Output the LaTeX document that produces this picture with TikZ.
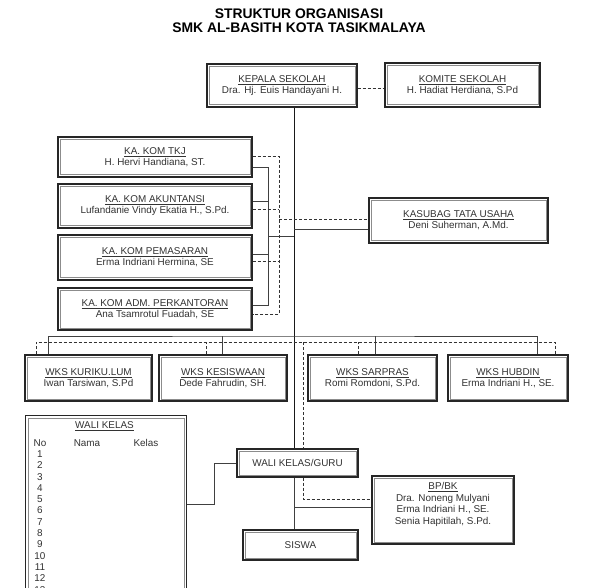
\documentclass[tikz,border=0pt]{standalone}
\usepackage{fontspec}
\setmainfont{Liberation Sans}
\usetikzlibrary{positioning}

\begin{document}
\begin{tikzpicture}
    [
        x=1pt, y=-1pt,
        every node/.style={text=black!80, font=\fontsize{9.9}{11}\selectfont},
        org_box/.style={rectangle, draw=black!85, line width=1.2pt, fill=white, inner sep=0pt, align=center,
            path picture={\draw[black!45, line width=0.6pt] ([shift={(2.2pt,-2.2pt)}]path picture bounding box.north west) rectangle ([shift={(-2.2pt,2.2pt)}]path picture bounding box.south east);}},
        title_text/.style={font=\fontsize{13.9}{14}\selectfont\bfseries, text=black},
        solid_link/.style={draw=black!75, line width=0.8pt},
        dashed_link/.style={draw=black!80, line width=0.8pt, dash pattern=on 3pt off 2pt},
    ]
        \useasboundingbox (0,0) rectangle (600,588);
        \clip (0,0) rectangle (600,588);
        % judul
        \node[title_text] (title1) at (299,14) {STRUKTUR ORGANISASI};
        \node[title_text] (title2) at (299,27.5) {SMK AL-BASITH KOTA TASIKMALAYA};
        % pimpinan
        \node[org_box, minimum width=150pt, minimum height=43pt] (kepala) at (282,85.5) {\underline{KEPALA SEKOLAH}\\Dra. Hj. Euis Handayani H.};
        \node[org_box, minimum width=155pt, minimum height=44pt] (komite) at (462.5,85) {\underline{KOMITE SEKOLAH}\\H. Hadiat Herdiana, S.Pd};
        \node[org_box, minimum width=179pt, minimum height=45pt] (kasubag) at (458.5,220.5) {\underline{KASUBAG TATA USAHA}\\Deni Suherman, A.Md.};
        % ketua kompetensi
        \node[org_box, minimum width=194pt, minimum height=40pt] (tkj) at (155,157) {\underline{KA. KOM TKJ}\\H. Hervi Handiana, ST.};
        \node[org_box, minimum width=194pt, minimum height=44pt] (akun) at (155,206) {\underline{KA. KOM AKUNTANSI}\\Lufandanie Vindy Ekatia H., S.Pd.};
        \node[org_box, minimum width=194pt, minimum height=45pt] (pemasaran) at (155,257.5) {\underline{KA. KOM PEMASARAN}\\Erma Indriani Hermina, SE};
        \node[org_box, minimum width=194pt, minimum height=42pt] (kantor) at (155,309) {\underline{KA. KOM ADM. PERKANTORAN}\\Ana Tsamrotul Fuadah, SE};
        % wakasek
        \node[org_box, minimum width=127pt, minimum height=46pt] (wks1) at (88.5,378) {\underline{WKS KURIKU.LUM}\\Iwan Tarsiwan, S.Pd};
        \node[org_box, minimum width=128pt, minimum height=46pt] (wks2) at (223,378) {\underline{WKS KESISWAAN}\\Dede Fahrudin, SH.};
        \node[org_box, minimum width=129pt, minimum height=46pt] (wks3) at (372.5,378) {\underline{WKS SARPRAS}\\Romi Romdoni, S.Pd.};
        \node[org_box, minimum width=120pt, minimum height=46pt] (wks4) at (508,378) {\underline{WKS HUBDIN}\\Erma Indriani H., SE.};
        % guru dan siswa
        \node[org_box, minimum width=121pt, minimum height=28pt] (wali) at (297.5,463) {WALI KELAS/GURU};
        \node[org_box, minimum width=142pt, minimum height=68pt] (bpbk) at (443,510) {};
        \node[align=center, font=\fontsize{9.9}{11.7}\selectfont] (bpbk_text) at (443,504.5) {\underline{BP/BK}\\Dra. Noneng Mulyani\\Erma Indriani H., SE.\\Senia Hapitilah, S.Pd.};
        \node[org_box, minimum width=115pt, minimum height=30pt] (siswa) at (300.5,545) {SISWA};
        % tabel wali kelas
        \node[org_box, minimum width=161pt, minimum height=200pt, anchor=north west] (wali_table) at (25,415) {};
        \node (table_title) at (104.5,426) {\underline{WALI KELAS}};
        \node (col_no) at (40,443) {No};
        \node (col_nama) at (87,443) {Nama};
        \node (col_kelas) at (146,443) {Kelas};
        \foreach \n in {1,...,13}
            \node (no\n) at (40,{454+11.3*(\n-1)}) {\n};
        % titik bantu
        \coordinate (trunk) at (294,0);
        \coordinate (kk_bus) at (268,236);
        \coordinate (kk_dash) at (279,219);
        \coordinate (wks_bus) at (294,336);
        \coordinate (wks_dash) at (303,342);
        % garis komando
        \draw[solid_link, draw=black!90] (kepala.south -| trunk) -- (wali.north -| trunk);
        \draw[solid_link] (wali.south -| trunk) -- (siswa.north -| trunk);
        \draw[dashed_link] ([yshift=-2.5pt]kepala.east) -- ([yshift=-2.5pt]kepala.east -| komite.west);
        \draw[solid_link] ([yshift=-10pt]tkj.east) -| ([yshift=4pt]kantor.east -| kk_bus) -- ([yshift=4pt]kantor.east);
        \draw[solid_link] ([yshift=5pt]akun.east) -- ([yshift=5pt]akun.east -| kk_bus);
        \draw[solid_link] ([yshift=3.5pt]pemasaran.east) -- ([yshift=3.5pt]pemasaran.east -| kk_bus);
        \draw[solid_link] (kk_bus) -- (kk_bus -| trunk);
        \draw[solid_link] ([yshift=-8.5pt]kasubag.west -| trunk) -- ([yshift=-8.5pt]kasubag.west);
        \draw[solid_link] ([xshift=-40.5pt]wks1.north) |- (wks_bus) -| ([xshift=29pt]wks4.north);
        \draw[solid_link] ([xshift=-1pt]wks2.north) -- ([xshift=-1pt]wks2.north |- wks_bus);
        \draw[solid_link] ([xshift=2.5pt]wks3.north) -- ([xshift=2.5pt]wks3.north |- wks_bus);
        \draw[solid_link] ([yshift=3pt]bpbk.west -| trunk) -- ([yshift=3pt]bpbk.west);
        \draw[solid_link] ([yshift=11.5pt]wali_table.east) -- ++(27,0) |- (wali.west);
        % garis koordinasi
        \draw[dashed_link] ([yshift=1pt]tkj.east) -| ([yshift=-5pt]kantor.east -| kk_dash) -- ([yshift=-5pt]kantor.east);
        \draw[dashed_link] ([yshift=-3pt]akun.east) -- ([yshift=-3pt]akun.east -| kk_dash);
        \draw[dashed_link] ([yshift=-3.5pt]pemasaran.east) -- ([yshift=-3.5pt]pemasaran.east -| kk_dash);
        \draw[dashed_link] (kk_dash) -- (kk_dash -| kasubag.west);
        \draw[dashed_link] ([xshift=-52.5pt]wks1.north) |- (wks_dash) -| ([xshift=47pt]wks4.north);
        \draw[dashed_link] ([xshift=-17pt]wks2.north) -- ([xshift=-17pt]wks2.north |- wks_dash);
        \draw[dashed_link] ([xshift=-14.5pt]wks3.north) -- ([xshift=-14.5pt]wks3.north |- wks_dash);
        \draw[dashed_link] (wks_dash) -- (wali.north -| wks_dash);
        \draw[dashed_link] (wali.south -| wks_dash) |- ([yshift=11pt]bpbk.west);
    \end{tikzpicture}
\end{document}
